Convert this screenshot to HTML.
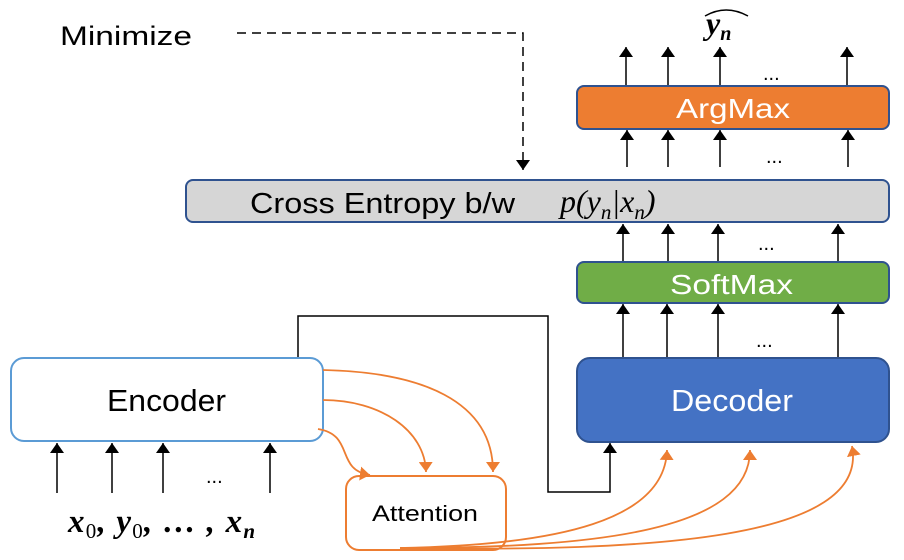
<!DOCTYPE html>
<html><head><meta charset="utf-8"><style>
html,body{margin:0;padding:0;background:#fff;}
svg{display:block;}
text{font-family:"Liberation Sans",sans-serif;}
.m{font-family:"Liberation Serif",serif;font-style:italic;}
</style></head><body>
<svg width="904" height="560" viewBox="0 0 904 560" xmlns="http://www.w3.org/2000/svg">
<defs>
<marker id="b" viewBox="0 0 10 14" markerWidth="10" markerHeight="14" refX="10" refY="7" orient="auto" markerUnits="userSpaceOnUse">
<path d="M0,0 L10,7 L0,14 Z" fill="#000"/>
</marker>
<marker id="o" viewBox="0 0 10 14" markerWidth="10" markerHeight="14" refX="10" refY="7" orient="auto" markerUnits="userSpaceOnUse">
<path d="M0,0 L10,7 L0,14 Z" fill="#ED7D31"/>
</marker>
</defs>
<text x="60" y="45" font-size="27" fill="#000" textLength="132" lengthAdjust="spacingAndGlyphs">Minimize</text>
<path d="M237,33 H523 V170" fill="none" stroke="#000" stroke-width="1.5" stroke-dasharray="9,6" marker-end="url(#b)"/>
<text x="706" y="34" font-size="32" class="m" font-weight="bold">y<tspan font-size="20" dy="6">n</tspan></text>
<path d="M705,16 Q726,4 748,16" fill="none" stroke="#000" stroke-width="1.5"/>

<g stroke="#000" stroke-width="1.5" fill="none" marker-end="url(#b)">
<line x1="626" y1="86" x2="626" y2="47"/><line x1="668" y1="86" x2="668" y2="47"/><line x1="720" y1="86" x2="720" y2="47"/><line x1="847" y1="86" x2="847" y2="47"/>
<line x1="627" y1="167" x2="627" y2="130"/><line x1="668" y1="167" x2="668" y2="130"/><line x1="720" y1="167" x2="720" y2="130"/><line x1="848" y1="167" x2="848" y2="130"/>
<line x1="623" y1="262" x2="623" y2="224"/><line x1="668" y1="262" x2="668" y2="224"/><line x1="718" y1="262" x2="718" y2="224"/><line x1="838" y1="262" x2="838" y2="224"/>
<line x1="623" y1="358" x2="623" y2="304"/><line x1="667" y1="358" x2="667" y2="304"/><line x1="718" y1="358" x2="718" y2="304"/><line x1="838" y1="358" x2="838" y2="304"/>
<line x1="57" y1="493" x2="57" y2="443"/><line x1="112" y1="493" x2="112" y2="443"/><line x1="163" y1="493" x2="163" y2="443"/><line x1="270" y1="493" x2="270" y2="443"/>
<path d="M298,358 V316 H548 V492 H610 V443"/>
</g>
<g font-size="20" fill="#000">
<text x="763" y="80">...</text><text x="766" y="163">...</text><text x="758" y="250">...</text><text x="756" y="347">...</text><text x="206" y="483">...</text>
</g>

<rect x="577" y="86" width="312" height="43" rx="7" fill="#ED7D31" stroke="#2F528F" stroke-width="2"/>
<text x="676" y="118" font-size="28" fill="#fff" textLength="114" lengthAdjust="spacingAndGlyphs">ArgMax</text>
<rect x="186" y="180" width="703" height="42" rx="7" fill="#D6D6D6" stroke="#2F528F" stroke-width="2"/>
<text x="250" y="213" font-size="29" fill="#000" textLength="265" lengthAdjust="spacingAndGlyphs">Cross Entropy b/w</text>
<text x="560" y="212" font-size="32" class="m">p(y<tspan font-size="21" dy="7">n</tspan><tspan dy="-7">|x</tspan><tspan font-size="21" dy="7">n</tspan><tspan dy="-7">)</tspan></text>
<rect x="577" y="262" width="312" height="41" rx="7" fill="#70AD47" stroke="#2F528F" stroke-width="2"/>
<text x="670" y="294" font-size="28" fill="#fff" textLength="123" lengthAdjust="spacingAndGlyphs">SoftMax</text>
<rect x="577" y="358" width="312" height="84" rx="13" fill="#4472C4" stroke="#2F528F" stroke-width="2"/>
<text x="671" y="411" font-size="31" fill="#fff" textLength="122" lengthAdjust="spacingAndGlyphs">Decoder</text>
<rect x="11" y="358" width="312" height="83" rx="13" fill="#fff" stroke="#5B9BD5" stroke-width="2"/>
<text x="107" y="411" font-size="31" fill="#000" textLength="119" lengthAdjust="spacingAndGlyphs">Encoder</text>
<rect x="346" y="476" width="160" height="74" rx="13" fill="#fff" stroke="#ED7D31" stroke-width="2"/>
<text x="372" y="521" font-size="22" fill="#000" textLength="106" lengthAdjust="spacingAndGlyphs">Attention</text>

<g stroke="#ED7D31" stroke-width="1.8" fill="none" marker-end="url(#o)">
<path d="M323,370 C420,372 493,400 493,472"/>
<path d="M323,400 C380,400 425,430 426,472"/>
<path d="M318,429 C355,435 335,470 370,475"/>
<path d="M400,548 C560,545 665,520 667,450"/>
<path d="M400,548 C600,548 750,530 750,450"/>
<path d="M400,548 C650,552 870,540 852,446"/>
</g>
<text x="68" y="532" font-size="33" class="m" font-weight="bold" textLength="187" lengthAdjust="spacing">x<tspan font-size="21" font-style="normal" font-weight="normal" dy="6">0</tspan><tspan dy="-6">, y</tspan><tspan font-size="21" font-style="normal" font-weight="normal" dy="6">0</tspan><tspan dy="-6">, … , x</tspan><tspan font-size="21" dy="6">n</tspan></text>
</svg>
</body></html>
